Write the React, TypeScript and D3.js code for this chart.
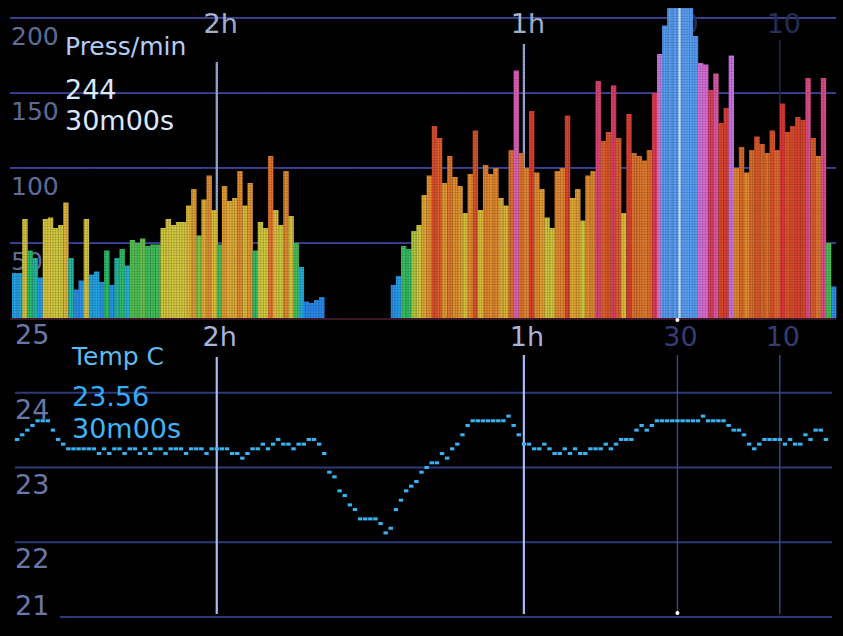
import React, { useEffect } from 'react';
import * as d3 from 'd3';

const W = 843;
const H = 636;

// presses per minute, one value per minute, oldest (left) to newest (right)
const pressPerMin = [
  30, 30, 66, 45, 40, 27, 66, 67, 60, 62,
  77, 40, 19, 25, 66, 29, 31, 24, 45, 22,
  40, 46, 35, 52, 50, 53, 48, 49, 49, 60,
  66, 62, 64, 64, 75, 86, 55, 79, 95, 72,
  49, 88, 78, 80, 98, 75, 90, 45, 64, 60,
  108, 72, 62, 98, 68, 50, 34, 11, 10, 12,
  14, 0, 0, 0, 0, 0, 0, 0, 0, 0,
  0, 0, 0, 0, 22, 28, 48, 46, 58, 62,
  82, 95, 128, 120, 90, 108, 94, 88, 70, 96,
  125, 72, 102, 96, 100, 80, 75, 112, 165, 110,
  100, 138, 97, 86, 67, 60, 98, 100, 135, 80,
  86, 65, 95, 98, 158, 118, 124, 155, 120, 70,
  136, 110, 108, 105, 112, 150, 176, 195, 215, 225,
  244, 230, 212, 188, 170, 169, 152, 163, 130, 140,
  175, 100, 114, 97, 112, 121, 116, 110, 125, 112,
  143, 124, 128, 134, 132, 160, 120, 108, 160, 50,
  21,
];

// temperature, one value per minute, from 159 min ago to 1 min ago
const tempC = [
  23.375, 23.4375, 23.5, 23.5625, 23.625, 23.625, 23.625, 23.5, 23.375, 23.3125,
  23.25, 23.25, 23.25, 23.25, 23.25, 23.25, 23.1875,
  23.25, 23.1875, 23.25, 23.25, 23.1875, 23.25, 23.25, 23.1875, 23.25, 23.1875,
  23.25, 23.25, 23.1875, 23.25, 23.25, 23.25, 23.1875, 23.25, 23.25, 23.25,
  23.1875, 23.25, 23.25, 23.25, 23.25, 23.1875, 23.1875,
  23.125, 23.1875, 23.25, 23.25, 23.3125, 23.25, 23.3125, 23.375, 23.3125, 23.3125,
  23.25, 23.3125, 23.3125, 23.375, 23.375, 23.3125,
  23.1875, 22.9375, 22.875, 22.6875, 22.625, 22.5, 22.4375, 22.3125, 22.3125, 22.3125,
  22.3125, 22.25, 22.125, 22.1875, 22.4375, 22.5625, 22.6875, 22.75, 22.8125, 22.9375,
  23.0, 23.0625, 23.0625, 23.1875, 23.125, 23.25, 23.3125, 23.4375, 23.5625, 23.625,
  23.625, 23.625, 23.625, 23.625, 23.625, 23.625, 23.6875, 23.5625, 23.4375, 23.3125,
  23.3125, 23.25, 23.25, 23.3125, 23.25, 23.1875, 23.1875, 23.25, 23.1875, 23.25,
  23.1875, 23.1875, 23.25, 23.25, 23.25, 23.3125, 23.25, 23.3125, 23.375, 23.375,
  23.375, 23.5, 23.5625, 23.5, 23.5625, 23.625, 23.625, 23.625, 23.625, 23.625,
  23.625, 23.625, 23.625, 23.625, 23.6875, 23.625, 23.625, 23.625, 23.625, 23.5625,
  23.5, 23.5, 23.4375, 23.3125, 23.25, 23.3125, 23.375, 23.375, 23.375, 23.375,
  23.3125, 23.375, 23.3125, 23.3125, 23.4375, 23.375, 23.5, 23.5, 23.375,
];

const pressTicks = [200, 150, 100, 50];
const tempTicks = [25, 24, 23, 22, 21];
const timeTickMinutes = [120, 60, 30, 10];
const timeTickLabels = ['2h', '1h', '30', '10'];

const pressTitle = 'Press/min';
const pressValue = '244';
const tempTitle = 'Temp C';
const tempValue = '23.56';
const cursorLabel = '30m00s';
const cursorMinute = 30;

const FONT = 'DejaVu Sans, Verdana, sans-serif';

const colorStops = [0, 25, 36, 44, 52, 60, 72, 85, 100, 115, 130, 145, 157, 168, 180, 188, 260];
const colorRange = [
  '#2a80f0', '#2a98f0', '#20b8e0', '#28c070', '#58c450', '#d4d040', '#e0c440', '#e8a434',
  '#e88a30', '#e06a2c', '#e04a2c', '#e03a3c', '#e04470', '#e070d8', '#c080f0', '#58a0f8', '#60a8ff',
];

export default function App() {
  useEffect(() => {
    document.body.style.margin = '0';
    document.body.style.background = '#000';
  }, []);

  const x = d3.scaleLinear().domain([160, 0]).range([12, 831]);
  const yP = d3.scaleLinear().domain([0, 200]).range([318, 18]);
  const yT = d3.scaleLinear().domain([21, 25]).range([617, 318]);
  const color = d3
    .scaleLinear<string>()
    .domain(colorStops)
    .range(colorRange)
    .interpolate(d3.interpolateRgb)
    .clamp(true);

  const barTop = 8;

  const lineTopTop: Record<string, number> = { '2h': 62, '1h': 44, '10': 40 };
  const lineTopBottom: Record<string, number> = { '2h': 357, '1h': 355, '30': 355, '10': 355 };
  const bright = (lbl: string) => lbl === '2h' || lbl === '1h';

  return (
    <svg
      width={W}
      height={H}
      style={{ position: 'absolute', left: 0, top: 0, display: 'block', background: '#000' }}
    >
      <rect x={0} y={0} width={W} height={H} fill="#000" />
      <defs>
        <clipPath id="pclip">
          <rect x={0} y={barTop} width={W} height={318 - barTop} />
        </clipPath>
        <pattern id="lcd" width={2.63} height={2.63} patternUnits="userSpaceOnUse">
          <rect x={0} y={0} width={2.63} height={0.55} fill="#000" />
          <rect x={0} y={0} width={0.55} height={2.63} fill="#000" />
        </pattern>
      </defs>

      {/* ===== Top panel: presses per minute ===== */}
      {pressTicks.map((t) => (
        <line key={'pg' + t} x1={10} x2={836} y1={yP(t)} y2={yP(t)} stroke="#3c48a0" strokeWidth={2} />
      ))}
      {pressTicks.map((t) => (
        <text key={'pl' + t} x={11} y={yP(t) + 27} fill="#6a78a8" fontSize={25} fontFamily={FONT}>
          {t}
        </text>
      ))}
      {timeTickMinutes.map((m, i) => (
        <text
          key={'tt' + m}
          x={x(m) + 4}
          y={33}
          fill={bright(timeTickLabels[i]) ? '#b8c4e4' : '#2c3462'}
          fontSize={27}
          fontFamily={FONT}
          textAnchor="middle"
        >
          {timeTickLabels[i]}
        </text>
      ))}
      {timeTickMinutes.map((m, i) =>
        lineTopTop[timeTickLabels[i]] !== undefined ? (
          <line
            key={'tv' + m}
            x1={x(m)}
            x2={x(m)}
            y1={lineTopTop[timeTickLabels[i]]}
            y2={318}
            stroke={bright(timeTickLabels[i]) ? '#a8bcf0' : '#262e5c'}
            strokeWidth={bright(timeTickLabels[i]) ? 2.2 : 1.5}
          />
        ) : null
      )}
      <g clipPath="url(#pclip)">
        {pressPerMin.map((v, i) => {
          if (v <= 0) return null;
          const left = x(160 - i);
          const right = x(159 - i);
          const top = yP(v);
          return (
            <rect
              key={'b' + i}
              x={left}
              y={top}
              width={right - left + 0.3}
              height={318 - top}
              fill={color(v)}
            />
          );
        })}
      </g>
      <line x1={x(cursorMinute) + 2} x2={x(cursorMinute) + 2} y1={barTop} y2={318} stroke="#e8f4ff" strokeWidth={2} />
      <rect x={0} y={0} width={W} height={318} fill="url(#lcd)" opacity={0.3} />
      <line x1={10} x2={836} y1={319} y2={319} stroke="#3a1828" strokeWidth={2} />

      <text x={65} y={55} fill="#b4ccf8" fontSize={25} fontFamily={FONT}>
        {pressTitle}
      </text>
      <text x={65} y={99} fill="#dce8ff" fontSize={27} fontFamily={FONT}>
        {pressValue}
      </text>
      <text x={65} y={130} fill="#dce8ff" fontSize={27} fontFamily={FONT}>
        {cursorLabel}
      </text>

      {/* ===== Bottom panel: temperature ===== */}
      {tempTicks.slice(1).map((t, i) => (
        <line
          key={'tg' + t}
          x1={i === tempTicks.length - 2 ? 60 : 15}
          x2={832}
          y1={yT(t)}
          y2={yT(t)}
          stroke="#2e3a78"
          strokeWidth={2}
        />
      ))}
      {tempTicks.map((t, i) => (
        <text
          key={'tl' + t}
          x={15}
          y={i === tempTicks.length - 1 ? yT(t) - 2 : yT(t) + 26}
          fill="#6a78a8"
          fontSize={27}
          fontFamily={FONT}
        >
          {t}
        </text>
      ))}
      {timeTickMinutes.map((m, i) => (
        <text
          key={'bt' + m}
          x={x(m) + 3}
          y={346}
          fill={bright(timeTickLabels[i]) ? '#a8b4dc' : '#343e72'}
          fontSize={27}
          fontFamily={FONT}
          textAnchor="middle"
        >
          {timeTickLabels[i]}
        </text>
      ))}
      {timeTickMinutes.map((m, i) => (
        <line
          key={'bv' + m}
          x1={x(m)}
          x2={x(m)}
          y1={lineTopBottom[timeTickLabels[i]]}
          y2={614}
          stroke={bright(timeTickLabels[i]) ? '#a8bcf0' : '#3a4888'}
          strokeWidth={bright(timeTickLabels[i]) ? 2.2 : 1.4}
        />
      ))}
      <circle cx={x(cursorMinute)} cy={320} r={2} fill="#ffffff" />
      <circle cx={x(cursorMinute)} cy={613} r={2} fill="#ffffff" />

      {tempC.map((t, i) => {
        const m = 159 - i;
        return (
          <rect
            key={'t' + i}
            x={x(m) - 2.2}
            y={yT(t) - 1.5}
            width={4.4}
            height={3}
            fill="#38b4f4"
          />
        );
      })}

      <text x={72} y={365} fill="#5cbcf0" fontSize={25} fontFamily={FONT}>
        {tempTitle}
      </text>
      <text x={72} y={406} fill="#34acf8" fontSize={27} fontFamily={FONT}>
        {tempValue}
      </text>
      <text x={72} y={438} fill="#40b4f8" fontSize={27} fontFamily={FONT}>
        {cursorLabel}
      </text>
    </svg>
  );
}
